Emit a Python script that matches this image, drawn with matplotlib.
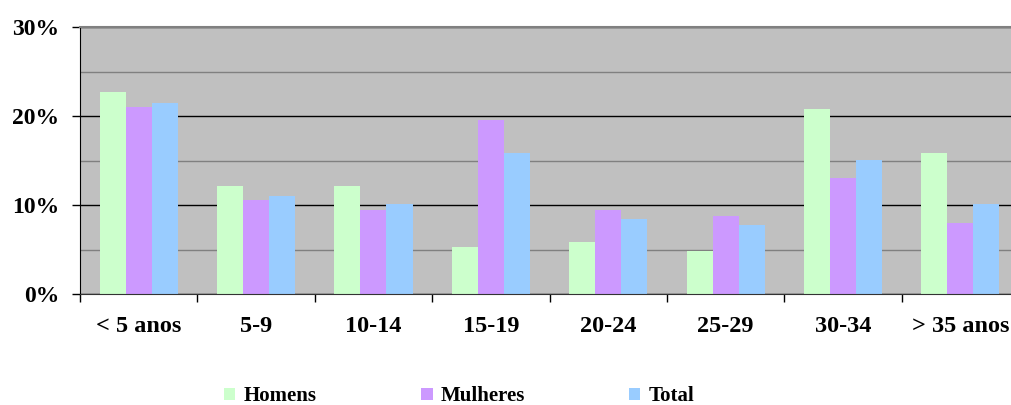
import matplotlib.pyplot as plt
import numpy as np
from matplotlib.patches import Patch
from matplotlib.ticker import FuncFormatter, MultipleLocator

plt.rcParams['font.family'] = ['Liberation Serif', 'DejaVu Serif']

categories = ['< 5 anos', '5-9', '10-14', '15-19', '20-24', '25-29', '30-34', '> 35 anos']
homens = [22.7, 12.1, 12.1, 5.3, 5.8, 4.8, 20.8, 15.9]
mulheres = [21.0, 10.6, 9.4, 19.6, 9.4, 8.8, 13.0, 8.0]
total = [21.5, 11.0, 10.1, 15.8, 8.4, 7.8, 15.1, 10.1]

series = [homens, mulheres, total]
labels = ['Homens', 'Mulheres', 'Total']
colors = ['#CCFFCC', '#CC99FF', '#99CCFF']

fig = plt.figure(figsize=(10.12, 4.05), dpi=100)
# plot area runs a little past the right edge of the figure
ax = fig.add_axes([0.079, 0.274, 0.928, 0.659])
ax.set_facecolor('#C0C0C0')

x = np.arange(len(categories))
bar_width = 0.222
for i, vals in enumerate(series):
    ax.bar(x + (i - 1) * bar_width, vals, bar_width, color=colors[i],
           edgecolor='none', zorder=3)

ax.set_xlim(-0.5, len(categories) - 0.5)
ax.set_ylim(0, 30)

# gridlines: solid at 10/20, lighter at 5/15/25
ax.yaxis.set_major_locator(MultipleLocator(10))
ax.yaxis.set_minor_locator(MultipleLocator(5))
ax.grid(axis='y', which='major', color='black', linewidth=1.0, zorder=1)
ax.grid(axis='y', which='minor', color='#808080', linewidth=1.0, zorder=1)
ax.yaxis.set_major_formatter(FuncFormatter(lambda v, p: '%d%%' % v))
ax.tick_params(axis='y', which='major', length=6, width=1, direction='out',
               pad=9, labelsize=17)
ax.tick_params(axis='y', which='minor', length=0)

# category labels centred, tick marks on the boundaries
ax.set_xticks(x)
ax.set_xticklabels(categories, fontweight='bold', fontsize=17.5)
ax.set_xticks(np.arange(len(categories) + 1) - 0.5, minor=True)
ax.tick_params(axis='x', which='major', length=0, pad=16)
ax.tick_params(axis='x', which='minor', length=6, width=1, direction='out')
for t in ax.get_yticklabels():
    t.set_fontweight('bold')

ax.spines['left'].set_color('black')
ax.spines['bottom'].set_color('#333333')
ax.spines['top'].set_color('#808080')
ax.spines['top'].set_linewidth(1.5)
ax.spines['right'].set_visible(False)
ax.spines['bottom'].set_zorder(4)

# one legend entry per slot, like the spreadsheet legend
legend_x = [0.211, 0.406, 0.611]
for i, label in enumerate(labels):
    fig.legend(handles=[Patch(facecolor=colors[i], edgecolor='none')],
               labels=[label], loc='center left',
               bbox_to_anchor=(legend_x[i], 0.021), frameon=False,
               handlelength=0.55, handleheight=0.55, handletextpad=0.4,
               borderpad=0, prop={'size': 15, 'weight': 'bold'})

fig.savefig('out.png', dpi=100)
